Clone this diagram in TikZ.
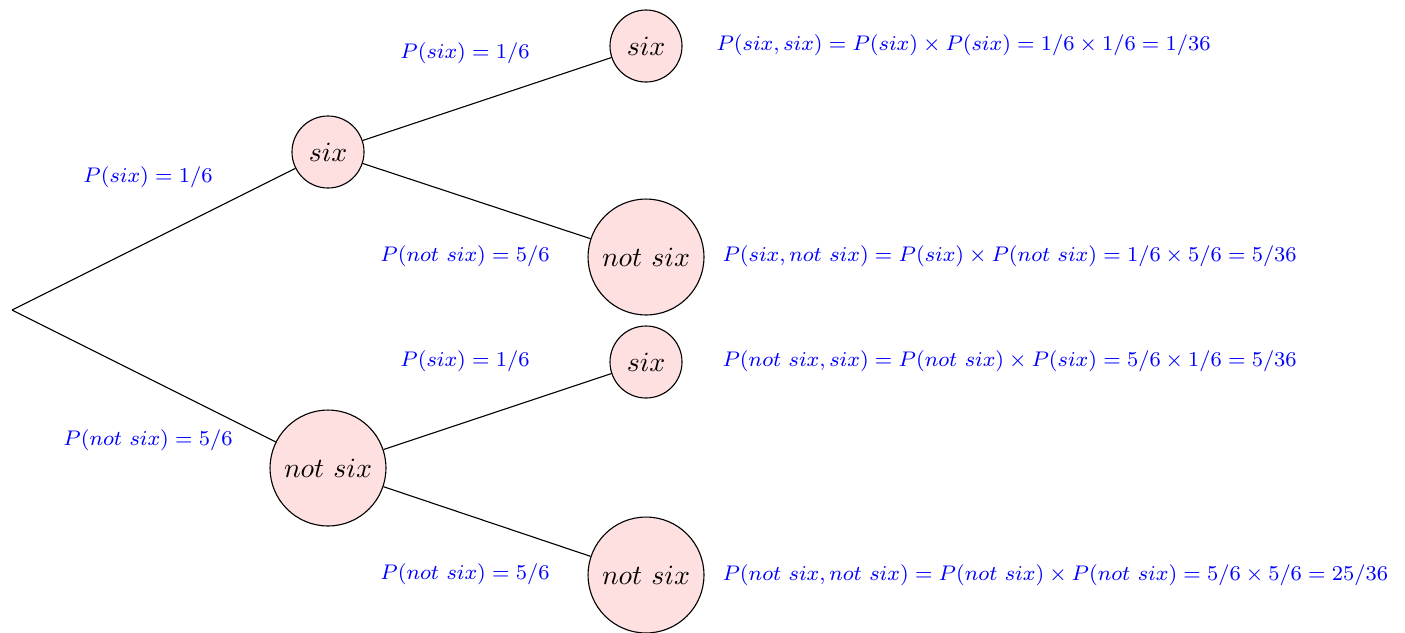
\documentclass[tikz,border=0pt]{standalone}
\newcommand{\pr}[1]{\scalebox{0.95}{\footnotesize$#1$}}
\begin{document}
\begin{tikzpicture}[x=0.3597pt,y=-0.3597pt,
  outcome/.style={circle,draw,fill=red!12,inner sep=0pt,font=\normalsize},
  small/.style={outcome,minimum size=25.9pt},
  big/.style={outcome,minimum size=41.7pt},
  prob/.style={text=blue,inner sep=0pt},
  res/.style={prob,anchor=west},
  branch/.style={draw,line width=0.4pt}]
\useasboundingbox (0,0) rectangle (1405,632);
\coordinate (r) at (12,310);
\node[small] (a) at (328,152) {$six$};
\node[big] (b) at (328,468) {$not\ six$};
\node[small] (aa) at (646,46) {$six$};
\node[big] (ab) at (646,257) {$not\ six$};
\node[small] (ba) at (646,362) {$six$};
\node[big] (bb) at (646,575) {$not\ six$};
\draw[branch] (r) -- (a);
\draw[branch] (r) -- (b);
\draw[branch] (a) -- (aa);
\draw[branch] (a) -- (ab);
\draw[branch] (b) -- (ba);
\draw[branch] (b) -- (bb);
\node[prob] (la) at (148,177) {\pr{P(six)=1/6}};
\node[prob] (lb) at (148,440) {\pr{P(not\ six)=5/6}};
\node[prob] (laa) at (465,53) {\pr{P(six)=1/6}};
\node[prob] (lab) at (465,256) {\pr{P(not\ six)=5/6}};
\node[prob] (lba) at (465,361) {\pr{P(six)=1/6}};
\node[prob] (lbb) at (465,574) {\pr{P(not\ six)=5/6}};
\node[res] (raa) at (716,45) {\pr{P(six,six)=P(six)\times P(six)=1/6\times1/6=1/36}};
\node[res] (rab) at (722,256) {\pr{P(six,not\ six)=P(six)\times P(not\ six)=1/6\times5/6=5/36}};
\node[res] (rba) at (722,361) {\pr{P(not\ six,six)=P(not\ six)\times P(six)=5/6\times1/6=5/36}};
\node[res] (rbb) at (722,575) {\pr{P(not\ six,not\ six)=P(not\ six)\times P(not\ six)=5/6\times5/6=25/36}};
\end{tikzpicture}
\end{document}
